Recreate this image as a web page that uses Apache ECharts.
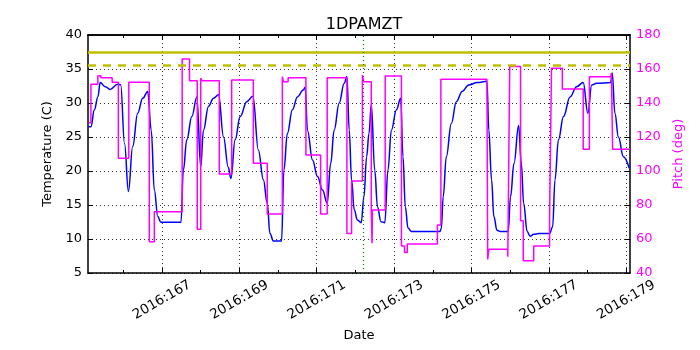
<!DOCTYPE html>
<html>
<head>
<meta charset="utf-8">
<script src="https://cdn.jsdelivr.net/npm/echarts@6/dist/echarts.min.js"></script>
<style>
  html, body { margin: 0; padding: 0; background: #fff; }
  #chart { width: 700px; height: 350px; }
</style>
</head>
<body>
<div id="chart"></div>
<script>
// temperature (left axis, deg C)
const tempDays = [165.10, 165.16, 165.25, 165.34, 165.40, 165.53, 165.66, 165.85, 165.93, 166.03, 166.13,
  166.24, 166.37, 166.50, 166.63, 166.72, 166.80, 166.89, 166.97, 167.49, 167.55, 167.64, 167.77, 167.90,
  168.00, 168.07, 168.20, 168.33, 168.46, 168.59, 168.71, 168.78, 168.89, 169.02, 169.19, 169.35, 169.49,
  169.62, 169.72, 169.79, 169.88, 170.09, 170.15, 170.24, 170.37, 170.50, 170.65, 170.70, 170.76, 170.89,
  171.02, 171.15, 171.27, 171.36, 171.45, 171.58, 171.71, 171.78, 171.84, 171.90, 171.97, 172.05, 172.15,
  172.22, 172.29, 172.35, 172.41, 172.50, 172.57, 172.66, 172.76, 172.84, 172.93, 173.06, 173.17, 173.23,
  173.29, 173.36, 173.45, 174.18, 174.22, 174.27, 174.35, 174.48, 174.61, 174.76, 174.93, 175.15, 175.40,
  175.45, 175.52, 175.58, 175.66, 175.75, 175.95, 176.01, 176.10, 176.22, 176.29, 176.35, 176.44, 176.52,
  176.61, 176.74, 177.02, 177.10, 177.16, 177.25, 177.38, 177.55, 177.72, 177.89, 178.01, 178.11, 178.24,
  178.60, 178.64, 178.71, 178.80, 178.93, 179.08]
const tempC = [26.5, 26.5, 29.0, 30.9, 33.0, 32.4, 32.0, 32.75, 32.7, 24.0, 17.0,
  23.6, 28.5, 30.7, 31.7, 26.0, 17.2, 13.3, 12.45, 12.45, 20.1, 24.6, 28.0, 30.9,
  20.6, 26.0, 29.5, 30.7, 31.2, 25.0, 20.6, 18.9, 24.6, 28.0, 30.2, 31.0, 23.1,
  18.7, 15.25, 10.8, 9.7, 9.7, 20.1, 25.5, 29.0, 30.9, 31.9, 32.3, 26.0, 21.6,
  19.2, 17.2, 15.25, 21.1, 26.0, 30.0, 32.9, 33.9, 26.0, 18.7, 14.3, 12.8, 12.4,
  16.2, 22.1, 25.5, 29.8, 20.1, 14.75, 12.55, 12.4, 20.1, 26.0, 29.0, 30.7, 22.1,
  14.75, 11.6, 11.1, 11.1, 11.5, 16.2, 22.1, 27.0, 30.2, 31.7, 32.65, 33.0, 33.2,
  26.0, 18.7, 13.3, 11.3, 11.1, 11.1, 16.2, 21.1, 26.7, 21.1, 15.25, 11.1, 10.4,
  10.7, 10.8, 10.8, 11.8, 18.7, 24.6, 28.0, 30.9, 32.4, 33.0, 28.5, 32.65, 32.9,
  33.0, 34.4, 28.5, 25.0, 22.1, 20.4]

// pitch (right axis, deg), as change points: value holds until the next day
const pitchDays = [165.10, 165.16, 165.34, 165.42, 165.71, 165.87, 166.14, 166.67, 166.80, 167.52,
  167.71, 167.91, 168.00, 168.04, 168.48, 168.80, 169.36, 169.72, 170.11, 170.14, 170.26, 170.72,
  171.10, 171.27, 171.78, 171.90, 172.18, 172.21, 172.41, 172.43, 172.44, 172.77, 173.19, 173.27,
  173.34, 174.12, 174.21, 175.40, 175.42, 175.45, 175.94, 175.99, 176.27, 176.34, 176.61, 177.02,
  177.07, 177.35, 177.89, 178.05, 178.60, 178.62, 178.65, 179.10]
const pitchDeg = [128.4, 151.0, 156.1, 154.9, 152.2, 107.5, 152.2, 58.4, 76.1, 165.9,
  153.1, 65.7, 154.5, 153.1, 98.2, 153.5, 104.5, 74.7, 155.5, 152.5, 154.9, 109.4,
  74.7, 154.9, 63.3, 94.1, 156.5, 152.5, 77.1, 57.5, 77.1, 155.9, 55.9, 52.0,
  57.1, 68.2, 153.9, 153.1, 48.0, 53.9, 49.6, 161.4, 70.8, 47.2, 55.9, 71.6,
  160.4, 148.2, 112.8, 155.5, 154.5, 157.5, 112.8, 112.8]

const majorDays = [167, 169, 171, 173, 175, 177, 179]
const minorDays = [166, 168, 170, 172, 174, 176, 178]
const tempLimits = [37.5, 35.5]   // solid, dashed
const markerDay = 172.19

const font = 'DejaVu Sans'
const xMin = 165.085, xMax = 179.10

const tempData = tempDays.map((d, i) => [d, tempC[i]])
const pitchData = pitchDays.map((d, i) => [d, pitchDeg[i]])

const dotted = {show: true, lineStyle: {color: '#333', type: [1, 3], width: 1}}

function tickAxis(position, days, len, withLabels) {
  return {
    type: 'value', min: xMin, max: xMax, position: position,
    axisLine: {show: withLabels || position === 'top', lineStyle: {color: '#000', width: 1.5}},
    axisTick: {show: true, inside: true, length: len, customValues: days, lineStyle: {color: '#000'}},
    axisLabel: {show: false},
    splitLine: {show: false}
  }
}

const bottomAxis = tickAxis('bottom', majorDays, 5, true)
bottomAxis.axisLabel = {
  show: true, customValues: majorDays, rotate: 30, align: 'center', verticalAlign: 'middle',
  margin: 27, color: '#000', fontFamily: font, fontSize: 13.5,
  formatter: v => '2016:' + v
}
bottomAxis.splitLine = dotted
bottomAxis.name = 'Date'
bottomAxis.nameLocation = 'middle'
bottomAxis.nameGap = 56
bottomAxis.nameTextStyle = {fontFamily: font, fontSize: 13, color: '#000'}

const option = {
  animation: false,
  backgroundColor: '#fff',
  title: {
    text: '1DPAMZT', left: 359, top: 12, textAlign: 'center',
    textStyle: {fontFamily: font, fontSize: 16, fontWeight: 'normal', color: '#000'}
  },
  grid: {left: 88, right: 70, top: 35, bottom: 77},
  xAxis: [
    bottomAxis,
    tickAxis('bottom', minorDays, 3, false),
    tickAxis('top', majorDays, 5, false),
    tickAxis('top', minorDays, 3, false)
  ],
  yAxis: [
    {
      type: 'value', min: 5, max: 40, interval: 5, position: 'left',
      name: 'Temperature (C)', nameLocation: 'middle', nameGap: 28,
      nameTextStyle: {fontFamily: font, fontSize: 13, color: '#000'},
      axisLine: {show: true, lineStyle: {color: '#000', width: 1.5}},
      axisTick: {inside: true, length: 5, lineStyle: {color: '#000'}},
      axisLabel: {color: '#000', fontFamily: font, fontSize: 13, margin: 6},
      splitLine: dotted
    },
    {
      type: 'value', min: 40, max: 180, interval: 20, position: 'right',
      name: 'Pitch (deg)', nameLocation: 'middle', nameGap: 32, nameRotate: 90,
      nameTextStyle: {fontFamily: font, fontSize: 13, color: '#ff00ff'},
      axisLine: {show: true, lineStyle: {color: '#000', width: 1.5}},
      axisTick: {inside: true, length: 5, lineStyle: {color: '#000'}},
      axisLabel: {color: '#ff00ff', fontFamily: font, fontSize: 13, margin: 6},
      splitLine: {show: false}
    }
  ],
  series: [
    {
      name: 'Temperature', type: 'line', xAxisIndex: 0, yAxisIndex: 0,
      data: tempData, showSymbol: false, smooth: 0.4, smoothMonotone: 'x',
      lineStyle: {color: '#0000ff', width: 1.5},
      markLine: {
        silent: true, symbol: 'none', label: {show: false},
        data: [
          {yAxis: tempLimits[0], lineStyle: {color: '#bfbf00', width: 2.5, type: 'solid'}},
          {yAxis: tempLimits[1], lineStyle: {color: '#bfbf00', width: 2.5, type: [8, 7]}},
          {xAxis: markerDay, lineStyle: {color: '#008000', width: 1.2, type: [1, 3]}}
        ]
      },
      z: 2
    },
    {
      name: 'Pitch', type: 'line', xAxisIndex: 0, yAxisIndex: 1,
      data: pitchData, showSymbol: false, step: 'end',
      lineStyle: {color: '#ff00ff', width: 1.5},
      z: 3
    }
  ]
}

const myChart = echarts.init(document.getElementById('chart'))
myChart.setOption(option)
</script>
</body>
</html>
